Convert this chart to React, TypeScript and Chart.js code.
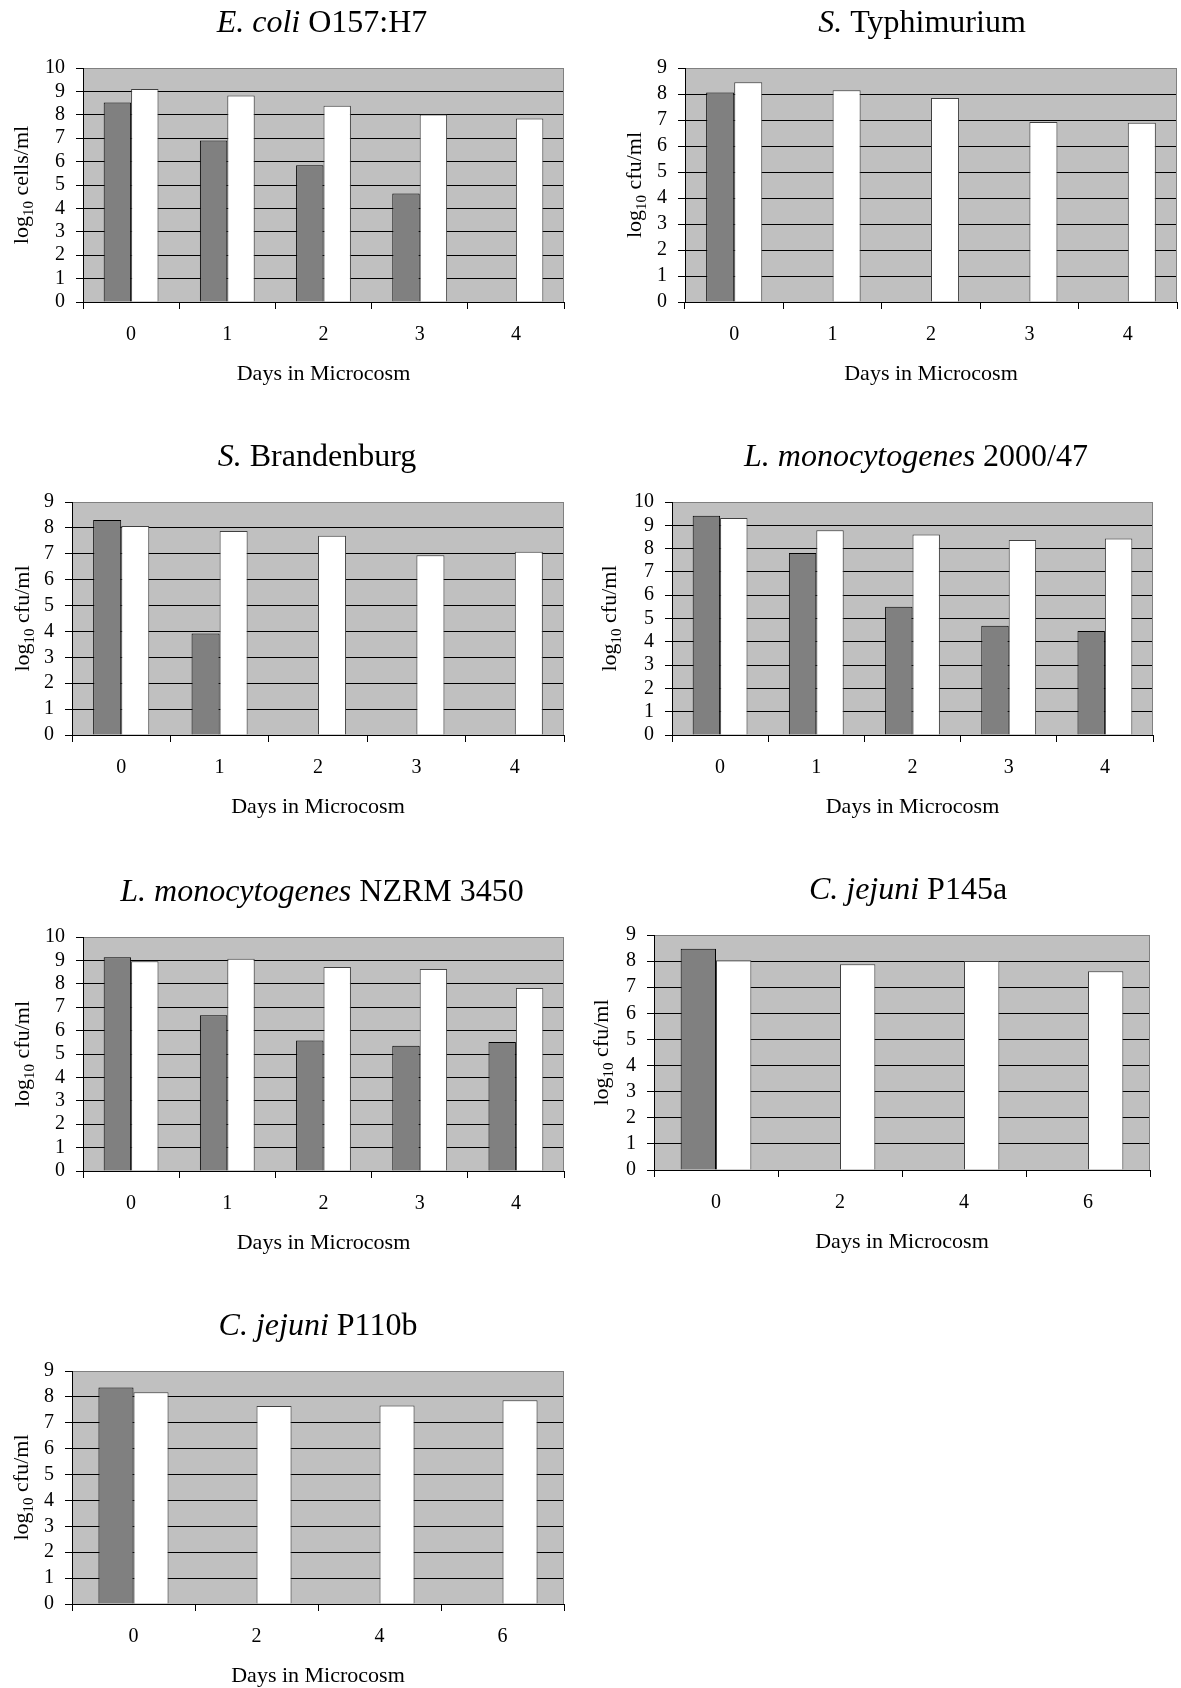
import { useEffect, useRef } from 'react';
import { Chart, registerables } from 'chart.js';

Chart.register(...registerables);

const FONT = "'Liberation Serif', 'Times New Roman', serif";

// Sampling days
const days5 = ['0', '1', '2', '3', '4'];
const days4 = ['0', '2', '4', '6'];

// log10 counts: dark bars (first series) and white bars (second series)
const ecoliDark = [8.53, 6.9, 5.84, 4.64, null];
const ecoliWhite = [9.1, 8.83, 8.39, 8.01, 7.84];

const typhimuriumDark = [8.06, null, null, null, null];
const typhimuriumWhite = [8.45, 8.14, 7.85, 6.92, 6.89];

const brandenburgDark = [8.3, 3.92, null, null, null];
const brandenburgWhite = [8.07, 7.88, 7.7, 6.94, 7.08];

const lm200047Dark = [9.41, 7.81, 5.5, 4.69, 4.46];
const lm200047White = [9.31, 8.79, 8.61, 8.37, 8.43];

const lmNzrmDark = [9.13, 6.66, 5.58, 5.35, 5.51];
const lmNzrmWhite = [8.96, 9.07, 8.72, 8.63, 7.82];

const cjP145aDark = [8.47, null, null, null];
const cjP145aWhite = [8.03, 7.88, 8.0, 7.61];

const cjP110bDark = [8.36, null, null, null];
const cjP110bWhite = [8.18, 7.65, 7.67, 7.87];

type PanelSpec = {
  italic: string;
  rest: string;
  unit: string;
  labels: string[];
  dark: (number | null)[];
  white: number[];
  yMax: number;
  // frame of the plot area on the page
  plotLeft: number;
  plotRight: number;
  plotTop: number;
  plotBottom: number;
  canvasLeft: number;
  canvasWidth: number;
  titleX: number;
  yTitleX: number;
};

const panels: PanelSpec[] = [
  { italic: 'E. coli', rest: ' O157:H7', unit: ' cells/ml', labels: days5, dark: ecoliDark, white: ecoliWhite, yMax: 10,
    plotLeft: 83, plotRight: 564, plotTop: 68, plotBottom: 302, canvasLeft: 0, canvasWidth: 590, titleX: 322, yTitleX: 28 },
  { italic: 'S.', rest: ' Typhimurium', unit: ' cfu/ml', labels: days5, dark: typhimuriumDark, white: typhimuriumWhite, yMax: 9,
    plotLeft: 685, plotRight: 1177, plotTop: 68, plotBottom: 302, canvasLeft: 590, canvasWidth: 591, titleX: 922, yTitleX: 641 },
  { italic: 'S.', rest: ' Brandenburg', unit: ' cfu/ml', labels: days5, dark: brandenburgDark, white: brandenburgWhite, yMax: 9,
    plotLeft: 72, plotRight: 564, plotTop: 502, plotBottom: 735, canvasLeft: 0, canvasWidth: 590, titleX: 317, yTitleX: 29 },
  { italic: 'L. monocytogenes', rest: ' 2000/47', unit: ' cfu/ml', labels: days5, dark: lm200047Dark, white: lm200047White, yMax: 10,
    plotLeft: 672, plotRight: 1153, plotTop: 502, plotBottom: 735, canvasLeft: 590, canvasWidth: 591, titleX: 916, yTitleX: 616 },
  { italic: 'L. monocytogenes', rest: ' NZRM 3450', unit: ' cfu/ml', labels: days5, dark: lmNzrmDark, white: lmNzrmWhite, yMax: 10,
    plotLeft: 83, plotRight: 564, plotTop: 937, plotBottom: 1171, canvasLeft: 0, canvasWidth: 590, titleX: 322, yTitleX: 29 },
  { italic: 'C. jejuni', rest: ' P145a', unit: ' cfu/ml', labels: days4, dark: cjP145aDark, white: cjP145aWhite, yMax: 9,
    plotLeft: 654, plotRight: 1150, plotTop: 935, plotBottom: 1170, canvasLeft: 590, canvasWidth: 591, titleX: 908, yTitleX: 608 },
  { italic: 'C. jejuni', rest: ' P110b', unit: ' cfu/ml', labels: days4, dark: cjP110bDark, white: cjP110bWhite, yMax: 9,
    plotLeft: 72, plotRight: 564, plotTop: 1371, plotBottom: 1604, canvasLeft: 0, canvasWidth: 590, titleX: 318, yTitleX: 28 },
];

const ABOVE = 68;
const BELOW = 83;
const Y_AXIS_W = 50;
const X_AXIS_H = 60;

function PanelChart({ p }: { p: PanelSpec }) {
  const ref = useRef<HTMLCanvasElement>(null);
  const canvasTop = p.plotTop - ABOVE;
  const canvasHeight = p.plotBottom - p.plotTop + ABOVE + BELOW;

  useEffect(() => {
    const canvas = ref.current;
    if (!canvas) return;

    const decorate = {
      id: 'decorate',
      beforeDraw(chart: any) {
        const { ctx, chartArea } = chart;
        const { left, top, right, bottom } = chartArea;
        ctx.save();
        ctx.fillStyle = '#c0c0c0';
        ctx.fillRect(left, top, right - left, bottom - top);
        ctx.restore();
      },
      beforeDatasetsDraw(chart: any) {
        const { ctx, chartArea } = chart;
        const { top, right, bottom } = chartArea;
        ctx.save();
        ctx.strokeStyle = '#808080';
        ctx.lineWidth = 1;
        ctx.beginPath();
        const x = Math.round(right) - 0.5;
        ctx.moveTo(x, top);
        ctx.lineTo(x, bottom);
        ctx.stroke();
        ctx.restore();
      },
      afterDraw(chart: any) {
        const { ctx, chartArea } = chart;
        const { left, top, right, bottom } = chartArea;
        ctx.save();
        ctx.fillStyle = '#000';
        ctx.textBaseline = 'alphabetic';
        ctx.textAlign = 'left';

        // panel title: italic organism name followed by upright strain
        ctx.font = `italic 32px ${FONT}`;
        const w1 = ctx.measureText(p.italic).width;
        ctx.font = `32px ${FONT}`;
        const w2 = ctx.measureText(p.rest).width;
        const tx = p.titleX - p.canvasLeft - (w1 + w2) / 2;
        const ty = top - 36;
        ctx.font = `italic 32px ${FONT}`;
        ctx.fillText(p.italic, tx, ty);
        ctx.font = `32px ${FONT}`;
        ctx.fillText(p.rest, tx + w1, ty);

        // x axis title
        ctx.font = `22px ${FONT}`;
        ctx.textAlign = 'center';
        ctx.fillText('Days in Microcosm', (left + right) / 2, bottom + 78);

        // y axis title with subscript
        ctx.textAlign = 'left';
        ctx.translate(p.yTitleX - p.canvasLeft, (top + bottom) / 2);
        ctx.rotate(-Math.PI / 2);
        ctx.font = `22px ${FONT}`;
        const a = ctx.measureText('log').width;
        const c = ctx.measureText(p.unit).width;
        ctx.font = `15px ${FONT}`;
        const b = ctx.measureText('10').width;
        let x = -(a + b + c) / 2;
        ctx.font = `22px ${FONT}`;
        ctx.fillText('log', x, 0);
        x += a;
        ctx.font = `15px ${FONT}`;
        ctx.fillText('10', x, 5);
        x += b;
        ctx.font = `22px ${FONT}`;
        ctx.fillText(p.unit, x, 0);
        ctx.restore();
      },
    };

    const chart = new Chart(canvas, {
      type: 'bar',
      data: {
        labels: p.labels,
        datasets: [
          { label: 'series 1', data: p.dark as any, backgroundColor: '#808080', borderColor: '#000000', borderWidth: 1 },
          { label: 'series 2', data: p.white, backgroundColor: '#ffffff', borderColor: '#404040', borderWidth: 1 },
        ],
      },
      options: {
        responsive: false,
        animation: false,
        devicePixelRatio: 1,
        layout: {
          padding: {
            left: p.plotLeft - p.canvasLeft - Y_AXIS_W,
            right: p.canvasLeft + p.canvasWidth - p.plotRight,
            top: ABOVE,
            bottom: BELOW - X_AXIS_H,
          },
        },
        datasets: { bar: { categoryPercentage: 0.57, barPercentage: 1 } },
        plugins: {
          legend: { display: false },
          tooltip: { enabled: false },
          title: { display: false },
        },
        scales: {
          x: {
            type: 'category',
            offset: true,
            grid: {
              offset: true,
              drawOnChartArea: false,
              drawTicks: true,
              tickLength: 7,
              color: '#000',
              tickColor: '#000',
              lineWidth: 1,
            },
            border: { color: '#000', width: 1 },
            ticks: {
              font: { family: FONT, size: 20 },
              color: '#000',
              padding: 14,
              maxRotation: 0,
              autoSkip: false,
            },
            afterFit: (s: any) => { s.height = X_AXIS_H; },
          },
          y: {
            min: 0,
            max: p.yMax,
            ticks: {
              stepSize: 1,
              autoSkip: false,
              font: { family: FONT, size: 20 },
              color: '#000',
              padding: 11,
            },
            grid: {
              color: (ctx: any) => (ctx.tick && ctx.tick.value === p.yMax ? '#808080' : '#000000'),
              tickColor: '#000',
              tickLength: 7,
              lineWidth: 1,
            },
            border: { color: '#000', width: 1 },
            afterFit: (s: any) => { s.width = Y_AXIS_W; },
          },
        },
      } as any,
      plugins: [decorate],
    });
    return () => chart.destroy();
  }, [p]);

  return (
    <canvas
      ref={ref}
      width={p.canvasWidth}
      height={canvasHeight}
      style={{ position: 'absolute', left: p.canvasLeft, top: canvasTop, width: p.canvasWidth, height: canvasHeight }}
    />
  );
}

export default function App() {
  return (
    <div style={{ position: 'absolute', left: 0, top: 0, width: 1181, height: 1688, background: '#fff' }}>
      {panels.map((p, i) => (
        <PanelChart key={i} p={p} />
      ))}
    </div>
  );
}
